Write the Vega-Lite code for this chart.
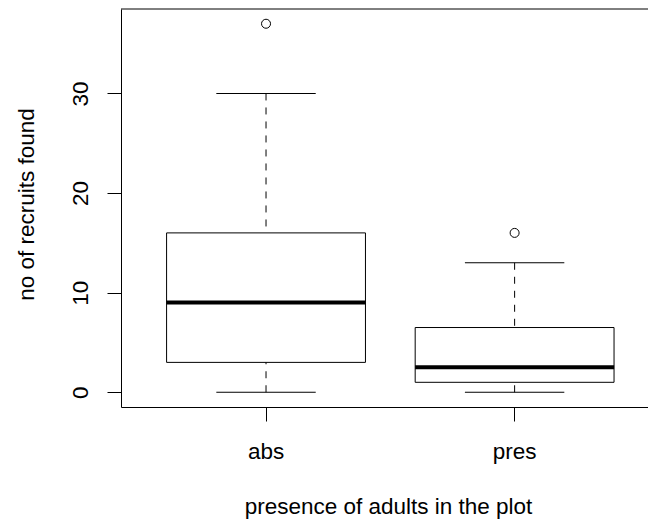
{
  "$schema": "https://vega.github.io/schema/vega-lite/v6.json",
  "width": 527,
  "height": 398,
  "autosize": {"type": "none"},
  "padding": {"left": 121, "top": 9, "right": 0, "bottom": 117},
  "config": {
    "view": {"stroke": null},
    "font": "Liberation Sans",
    "axis": {
      "grid": false,
      "domainColor": "#000",
      "domainWidth": 1,
      "tickColor": "#000",
      "tickWidth": 1,
      "tickSize": 14,
      "labelColor": "#000",
      "titleColor": "#000",
      "labelFont": "Liberation Sans",
      "titleFont": "Liberation Sans",
      "labelFontSize": 22.5,
      "titleFontSize": 22.5,
      "titleFontWeight": "normal"
    }
  },
  "datasets": {
    "stats": [
      {"group": "abs", "lower": 0, "q1": 3, "median": 9, "q3": 16, "upper": 30},
      {"group": "pres", "lower": 0, "q1": 1, "median": 2.5, "q3": 6.5, "upper": 13}
    ],
    "outliers": [
      {"group": "abs", "value": 37},
      {"group": "pres", "value": 16}
    ],
    "frame": [
      {"edge": "top", "value": 38.48}
    ]
  },
  "layer": [
    {
      "data": {"name": "stats"},
      "mark": {"type": "bar", "width": {"band": 0.8}, "fill": "#ffffff", "stroke": "#000", "strokeWidth": 1},
      "encoding": {
        "x": {
          "field": "group",
          "type": "nominal",
          "scale": {"type": "band", "paddingInner": 0, "paddingOuter": 0.06, "align": 0.695},
          "axis": {
            "title": "presence of adults in the plot",
            "labelAngle": 0,
            "labelBaseline": "alphabetic",
            "labelPadding": 37,
            "titleBaseline": "alphabetic",
            "titleAnchor": "start",
            "titleAlign": "center",
            "titleX": 267,
            "titleY": 106
          }
        },
        "y": {
          "field": "q1",
          "type": "quantitative",
          "scale": {"domain": [-1.48, 38.48], "nice": false, "zero": false},
          "axis": {
            "values": [0, 10, 20, 30],
            "title": "no of recruits found",
            "labelAngle": -90,
            "labelAlign": "center",
            "labelBaseline": "alphabetic",
            "labelPadding": 20,
            "titleAngle": -90,
            "titleAlign": "center",
            "titleBaseline": "alphabetic",
            "titleX": -88,
            "titleY": 195
          }
        },
        "y2": {"field": "q3"}
      }
    },
    {
      "data": {"name": "stats"},
      "mark": {"type": "rule", "color": "#000", "strokeWidth": 1, "strokeDash": [7, 7]},
      "encoding": {
        "x": {"field": "group", "type": "nominal"},
        "y": {"field": "upper", "type": "quantitative"},
        "y2": {"field": "q3"}
      }
    },
    {
      "data": {"name": "stats"},
      "mark": {"type": "rule", "color": "#000", "strokeWidth": 1, "strokeDash": [7, 7]},
      "encoding": {
        "x": {"field": "group", "type": "nominal"},
        "y": {"field": "lower", "type": "quantitative"},
        "y2": {"field": "q1"}
      }
    },
    {
      "data": {"name": "stats"},
      "mark": {"type": "tick", "orient": "horizontal", "color": "#000", "size": 99.4, "thickness": 1, "opacity": 1},
      "encoding": {
        "x": {"field": "group", "type": "nominal"},
        "y": {"field": "upper", "type": "quantitative"}
      }
    },
    {
      "data": {"name": "stats"},
      "mark": {"type": "tick", "orient": "horizontal", "color": "#000", "size": 99.4, "thickness": 1, "opacity": 1},
      "encoding": {
        "x": {"field": "group", "type": "nominal"},
        "y": {"field": "lower", "type": "quantitative"}
      }
    },
    {
      "data": {"name": "stats"},
      "mark": {"type": "tick", "orient": "horizontal", "color": "#000", "size": 199, "thickness": 4, "opacity": 1},
      "encoding": {
        "x": {"field": "group", "type": "nominal"},
        "y": {"field": "median", "type": "quantitative"}
      }
    },
    {
      "data": {"name": "outliers"},
      "mark": {"type": "point", "shape": "circle", "filled": false, "size": 81, "stroke": "#000", "strokeWidth": 1, "opacity": 1},
      "encoding": {
        "x": {"field": "group", "type": "nominal"},
        "y": {"field": "value", "type": "quantitative"}
      }
    },
    {
      "data": {"name": "frame"},
      "mark": {"type": "rule", "color": "#000", "strokeWidth": 1},
      "encoding": {
        "y": {"field": "value", "type": "quantitative"}
      }
    }
  ]
}
